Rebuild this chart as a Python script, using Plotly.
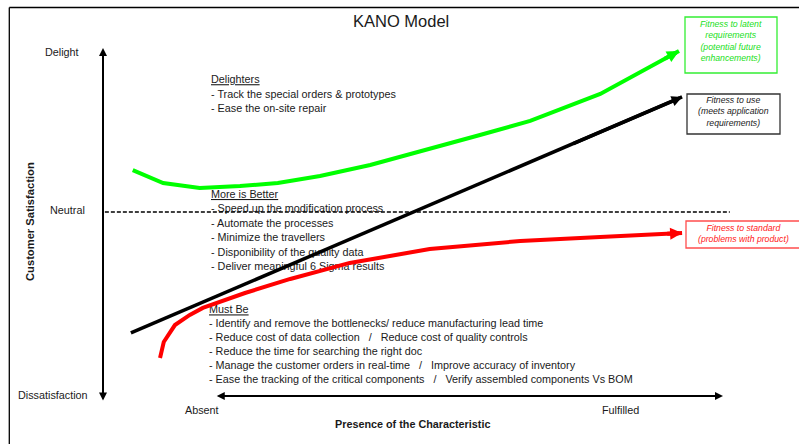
import plotly.graph_objects as go

# ---------------- data (x: presence of the characteristic, 0 = satisfaction axis,
# 100 = "Fulfilled";  y: customer satisfaction, 0 = Neutral) ----------------
green_x = [4.8, 9.7, 15.6, 22.1, 28.2, 35.0, 43.1, 52.7, 60.8, 68.9, 80.2, 92.9]
green_y = [23.3, 16.1, 13.3, 14.4, 16.1, 20.0, 26.1, 35.0, 42.8, 50.6, 65.6, 89.4]

black_x = [4.5, 93.4]
black_y = [-67.2, 63.9]

red_x = [9.2, 9.8, 11.6, 14.0, 16.1, 22.9, 30.2, 39.8, 52.7, 67.3, 80.2, 93.4]
red_y = [-81.1, -72.2, -62.8, -57.2, -53.3, -45.0, -37.2, -28.3, -20.6, -16.1, -13.9, -11.7]

neutral_x = [0.3, 101.1]
neutral_y = [0, 0]

sat_axis_x = 0
sat_axis_y = [91.1, -105.6]
presence_axis_y = -102.2
presence_axis_x = [18.1, 100.0]

title = "KANO Model"
sat_labels = ["Delight", "Neutral", "Dissatisfaction"]
presence_labels = ["Absent", "Fulfilled"]

delighters_head = "Delighters"
delighters_items = ["- Track the special orders & prototypes", "- Ease the on-site repair"]
better_head = "More is Better"
better_items = [
    "- Speed up the modification process",
    "- Automate the processes",
    "- Minimize the travellers",
    "- Disponibility of the quality data",
    "- Deliver meaningful 6 Sigma results",
]
mustbe_head = "Must Be"
mustbe_items = [
    "- Identify and remove the bottlenecks/ reduce manufacturing lead time",
    "- Reduce cost of data collection   /   Reduce cost of quality controls",
    "- Reduce the time for searching the right doc",
    "- Manage the customer orders in real-time   /   Improve accuracy of inventory",
    "- Ease the tracking of the critical components   /   Verify assembled components Vs BOM",
]
green_note = "Fitness to latent<br>requirements<br>(potential future<br>enhancements)"
black_note = "Fitness to use<br>(meets application<br>requirements)"
red_note = "Fitness to standard<br>(problems with product)"

# ---------------- layout helpers ----------------
W, H = 799, 444
X_RANGE = [-16.613, 112.258]
Y_RANGE = [-128.89, 117.78]
FONT = "Arial, Liberation Sans, sans-serif"
TXT = "#1a1a1a"


def dx(px):
    return X_RANGE[0] + px * (X_RANGE[1] - X_RANGE[0]) / W


def dy(py):
    return Y_RANGE[1] - py * (Y_RANGE[1] - Y_RANGE[0]) / H


def P(px, py):
    return px / W, 1 - py / H


fig = go.Figure()

# text blocks drawn first so the curves pass over them
def text_block(head, items, px, py0, step, size=10.8):
    ys = [py0 + i * step for i in range(len(items) + 1)]
    texts = ["<u>" + head + "</u>"] + items
    fig.add_trace(go.Scatter(
        x=[dx(px)] * len(texts), y=[dy(v) for v in ys], mode="text",
        text=texts, textposition="middle right",
        textfont=dict(family=FONT, size=size, color=TXT),
        hoverinfo="skip", showlegend=False))


text_block(delighters_head, delighters_items, 211, 80.5, 14.6)
text_block(better_head, better_items, 211, 195.3, 14.4)
text_block(mustbe_head, mustbe_items, 209, 310.7, 14.0)

# neutral dashed line
fig.add_trace(go.Scatter(x=neutral_x, y=neutral_y, mode="lines",
                         line=dict(color="black", width=1.3, dash="4px,2px"),
                         hoverinfo="skip", showlegend=False))

# curves
curves = [
    (green_x, green_y, "#00ff00", 4),
    (black_x, black_y, "#000000", 3.5),
    (red_x, red_y, "#ff0000", 4),
]
for xs, ys, col, w in curves:
    fig.add_trace(go.Scatter(x=xs, y=ys, mode="lines",
                             line=dict(color=col, width=w),
                             hoverinfo="skip", showlegend=False))
    fig.add_annotation(x=xs[-1], y=ys[-1], ax=xs[-2] + (xs[-1] - xs[-2]) * 0.8,
                       ay=ys[-2] + (ys[-1] - ys[-2]) * 0.8,
                       xref="x", yref="y", axref="x", ayref="y",
                       showarrow=True, arrowhead=2, arrowsize=0.6, arrowwidth=w,
                       arrowcolor=col, standoff=0, text="")

# axes arrows
fig.add_annotation(x=sat_axis_x, y=sat_axis_y[0], ax=sat_axis_x, ay=sat_axis_y[1],
                   xref="x", yref="y", axref="x", ayref="y", showarrow=True,
                   arrowhead=2, arrowside="end+start", arrowsize=0.8, arrowwidth=2,
                   arrowcolor="black", text="")
fig.add_annotation(x=presence_axis_x[1], y=presence_axis_y, ax=presence_axis_x[0],
                   ay=presence_axis_y, xref="x", yref="y", axref="x", ayref="y",
                   showarrow=True, arrowhead=2, arrowside="end+start", arrowsize=0.8,
                   arrowwidth=2, arrowcolor="black", text="")

annots = []


def label(txt, px, py, size=10.8, bold=False, italic=False, color=TXT, angle=0,
          xanchor="center"):
    x, y = P(px, py)
    t = txt
    if bold:
        t = "<b>" + t + "</b>"
    if italic:
        t = "<i>" + t + "</i>"
    annots.append(dict(x=x, y=y, xref="paper", yref="paper", text=t, showarrow=False,
                       xanchor=xanchor, yanchor="middle", textangle=angle,
                       font=dict(family=FONT, size=size, color=color)))


label(title, 401, 21, size=16.5)
label(sat_labels[0], 62, 52.5)
label(sat_labels[1], 67, 209.5)
label(sat_labels[2], 53, 395)
label(presence_labels[0], 202, 409.5)
label(presence_labels[1], 620, 409.5)
label("Presence of the Characteristic", 412, 424, bold=True)
label("Customer Satisfaction", 30, 222, size=11.2, bold=True, angle=-90)

label(green_note, 731, 41, size=8.7, italic=True, color="#22e022")
label(black_note, 733, 112, size=8.7, italic=True, color="#222222")
label(red_note, 743, 233.5, size=8.7, italic=True, color="#ff2020")

shapes = []


def rect(x0, y0, x1, y1, col):
    a = P(x0, y0)
    b = P(x1, y1)
    shapes.append(dict(type="rect", xref="paper", yref="paper", x0=a[0], y0=b[1],
                       x1=b[0], y1=a[1], line=dict(color=col, width=1.3)))


rect(685, 17, 777, 73, "#33ee33")
rect(687, 94, 780, 134, "#333333")
rect(686, 221, 802, 248, "#ff4d4d")

# slide frame
shapes.append(dict(type="line", xref="paper", yref="paper", x0=9.3 / W, x1=9.3 / W,
                   y0=1 - 7.5 / H, y1=0, line=dict(color="black", width=1.3)))
shapes.append(dict(type="line", xref="paper", yref="paper", x0=9.3 / W, x1=1.01,
                   y0=1 - 7.5 / H, y1=1 - 7.5 / H, line=dict(color="black", width=1.3)))

fig.update_layout(
    width=W, height=H, margin=dict(l=0, r=0, t=0, b=0), autosize=False,
    paper_bgcolor="white", plot_bgcolor="white", showlegend=False,
    xaxis=dict(range=X_RANGE, visible=False, fixedrange=True),
    yaxis=dict(range=Y_RANGE, visible=False, fixedrange=True),
    annotations=list(fig.layout.annotations) + annots,
    shapes=shapes,
)

fig.write_html("out.html", config={"displayModeBar": False},
               post_script="document.body.style.margin='0';document.body.style.overflow='hidden';")
